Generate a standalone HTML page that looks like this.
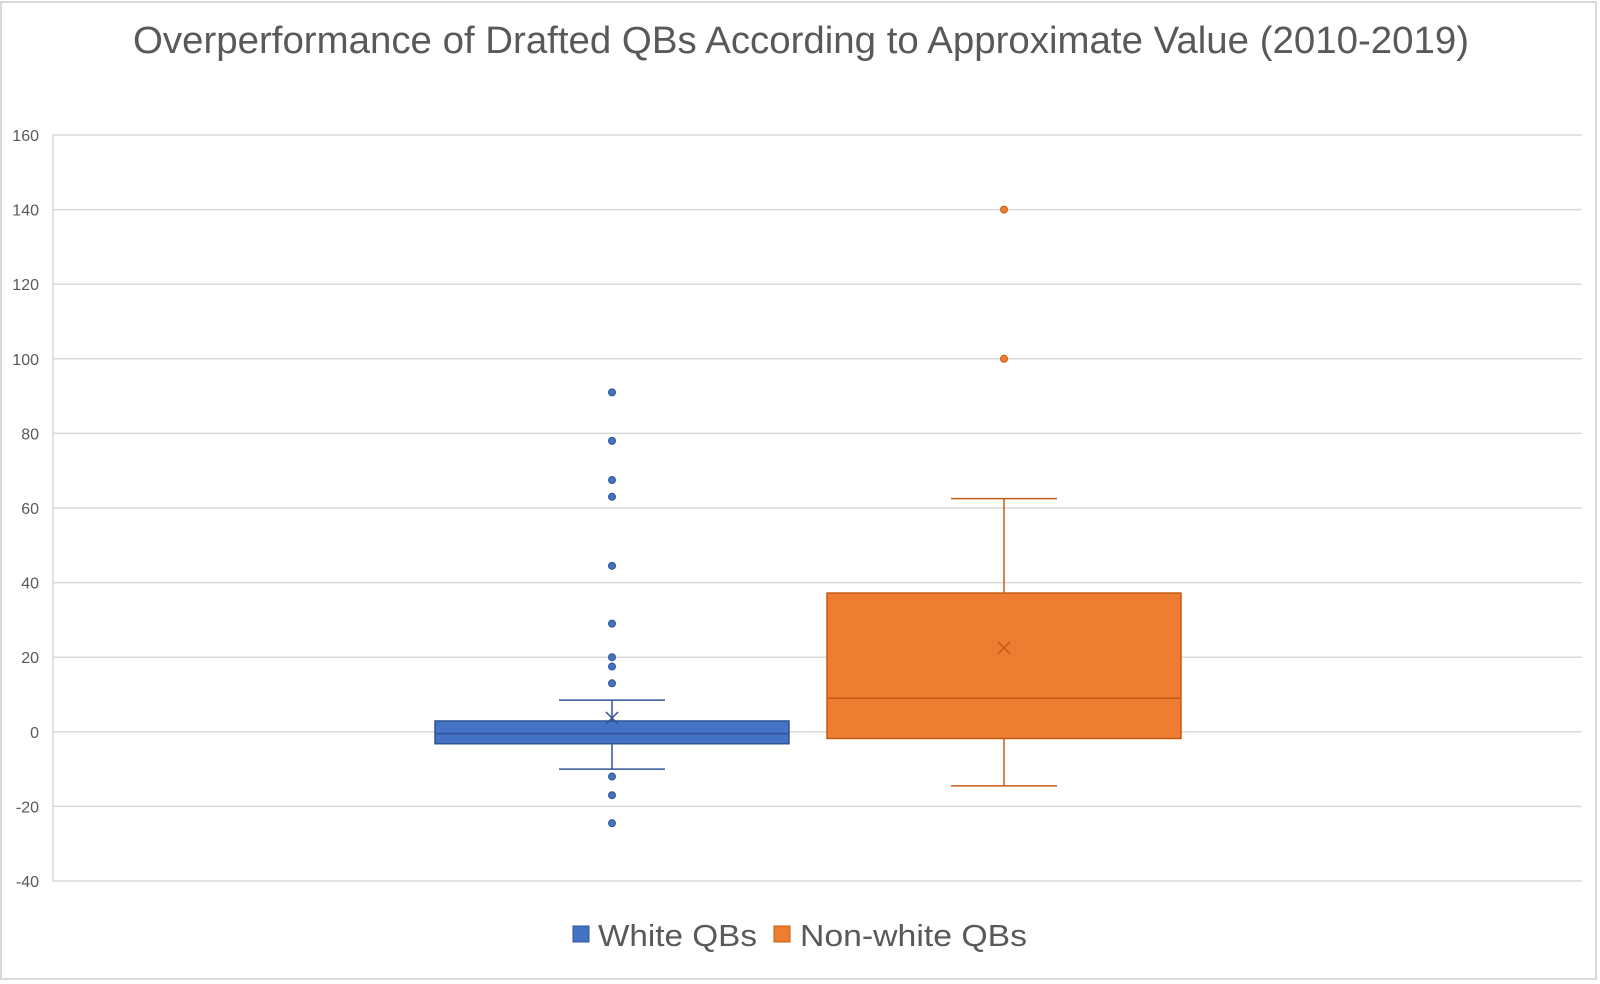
<!DOCTYPE html>
<html><head><meta charset="utf-8">
<style>
html,body{margin:0;padding:0;background:#fff;}
svg{display:block;font-family:"Liberation Sans",sans-serif;}
</style></head>
<body>
<svg id="chart" width="1600" height="984" viewBox="0 0 1600 984">
  <rect x="1" y="2" width="1595" height="977" fill="#fff" stroke="#d9d9d9" stroke-width="2"/>
  <text x="801" y="53" text-anchor="middle" font-size="38" fill="#595959" textLength="1336" lengthAdjust="spacingAndGlyphs">Overperformance of Drafted QBs According to Approximate Value (2010-2019)</text>
  <g id="grid"></g>
  <g id="ylabels"></g>
  <g id="marks"></g>
  <g>
    <rect x="573" y="926" width="16" height="16" fill="#4472c4" stroke="#2f5597"/>
    <text x="598" y="946" font-size="31" fill="#595959" textLength="159" lengthAdjust="spacingAndGlyphs">White QBs</text>
    <rect x="774" y="926" width="16" height="16" fill="#ed7d31" stroke="#c55a11"/>
    <text x="800" y="946" font-size="31" fill="#595959" textLength="227" lengthAdjust="spacingAndGlyphs">Non-white QBs</text>
  </g>
</svg>
<script>
const yTicks = [160,140,120,100,80,60,40,20,0,-20,-40];
const seriesNames = ["White QBs","Non-white QBs"];
const q1 = [-3.2, -1.8];
const medians = [-0.5, 9];
const q3 = [2.9, 37.2];
const whiskerLow = [-10, -14.5];
const whiskerHigh = [8.5, 62.5];
const means = [3.7, 22.5];
const outliersWhite = [91, 78, 67.5, 63, 44.5, 29, 20, 17.5, 13, -12, -17, -24.5];
const outliersNonwhite = [140, 100];

const NS = "http://www.w3.org/2000/svg";
const plotLeft = 53, plotRight = 1582, yTop = 135, yBottom = 881;
const yMin = -40, yMax = 160;
const fills = ["#4472c4","#ed7d31"], strokes = ["#2f5597","#c55a11"];
const centers = [612, 1004], boxHalf = 177, capHalf = 53;
function y(v){ return yBottom - (v - yMin) / (yMax - yMin) * (yBottom - yTop); }
function mk(tag, attrs, parent){ const e = document.createElementNS(NS, tag); for (const k in attrs) e.setAttribute(k, attrs[k]); parent.appendChild(e); return e; }

const grid = document.getElementById('grid'), yl = document.getElementById('ylabels'), marks = document.getElementById('marks');
yTicks.forEach(t => {
  const l = mk('line', {x1: plotLeft, x2: plotRight, y1: y(t), y2: y(t), stroke: '#d9d9d9', 'stroke-width': 1.5}, grid);
  
  
  const tx = mk('text', {x: 39, y: y(t) + 6, 'text-anchor': 'end', 'font-size': 16, fill: '#595959'}, yl);
  tx.textContent = t;
  
  
});
const vAxis = mk('line', {x1: plotLeft, x2: plotLeft, y1: yTop, y2: yBottom, stroke: '#d9d9d9', 'stroke-width': 1.5}, grid);



const outliers = [outliersWhite, outliersNonwhite];
seriesNames.forEach((name, i) => {
  const cx = centers[i], st = strokes[i];
  const g = mk('g', {}, marks);
  
  
  const w1 = mk('line', {x1: cx, x2: cx, y1: y(q3[i]), y2: y(whiskerHigh[i]), stroke: st, 'stroke-width': 1.5}, g);
  
  
  const w2 = mk('line', {x1: cx, x2: cx, y1: y(q1[i]), y2: y(whiskerLow[i]), stroke: st, 'stroke-width': 1.5}, g);
  
  
  const c1 = mk('line', {x1: cx - capHalf, x2: cx + capHalf, y1: y(whiskerHigh[i]), y2: y(whiskerHigh[i]), stroke: st, 'stroke-width': 1.5}, g);
  
  
  const c2 = mk('line', {x1: cx - capHalf, x2: cx + capHalf, y1: y(whiskerLow[i]), y2: y(whiskerLow[i]), stroke: st, 'stroke-width': 1.5}, g);
  
  
  const b = mk('rect', {x: cx - boxHalf, y: y(q3[i]), width: boxHalf * 2, height: y(q1[i]) - y(q3[i]), fill: fills[i], stroke: st, 'stroke-width': 1.5}, g);
  
  
  const m = mk('line', {x1: cx - boxHalf, x2: cx + boxHalf, y1: y(medians[i]), y2: y(medians[i]), stroke: st, 'stroke-width': 1.5}, g);
  
  
  const my = y(means[i]), s = 6;
  const mp = mk('path', {d: `M${cx-s},${my-s}L${cx+s},${my+s}M${cx+s},${my-s}L${cx-s},${my+s}`, stroke: st, 'stroke-width': 1.5, fill: 'none'}, g);
  
  
  outliers[i].forEach(v => {
    const d = mk('circle', {cx: cx, cy: y(v), r: 3.5, fill: fills[i], stroke: st, 'stroke-width': 1}, g);
    
    
  });
});
</script>
</body></html>
